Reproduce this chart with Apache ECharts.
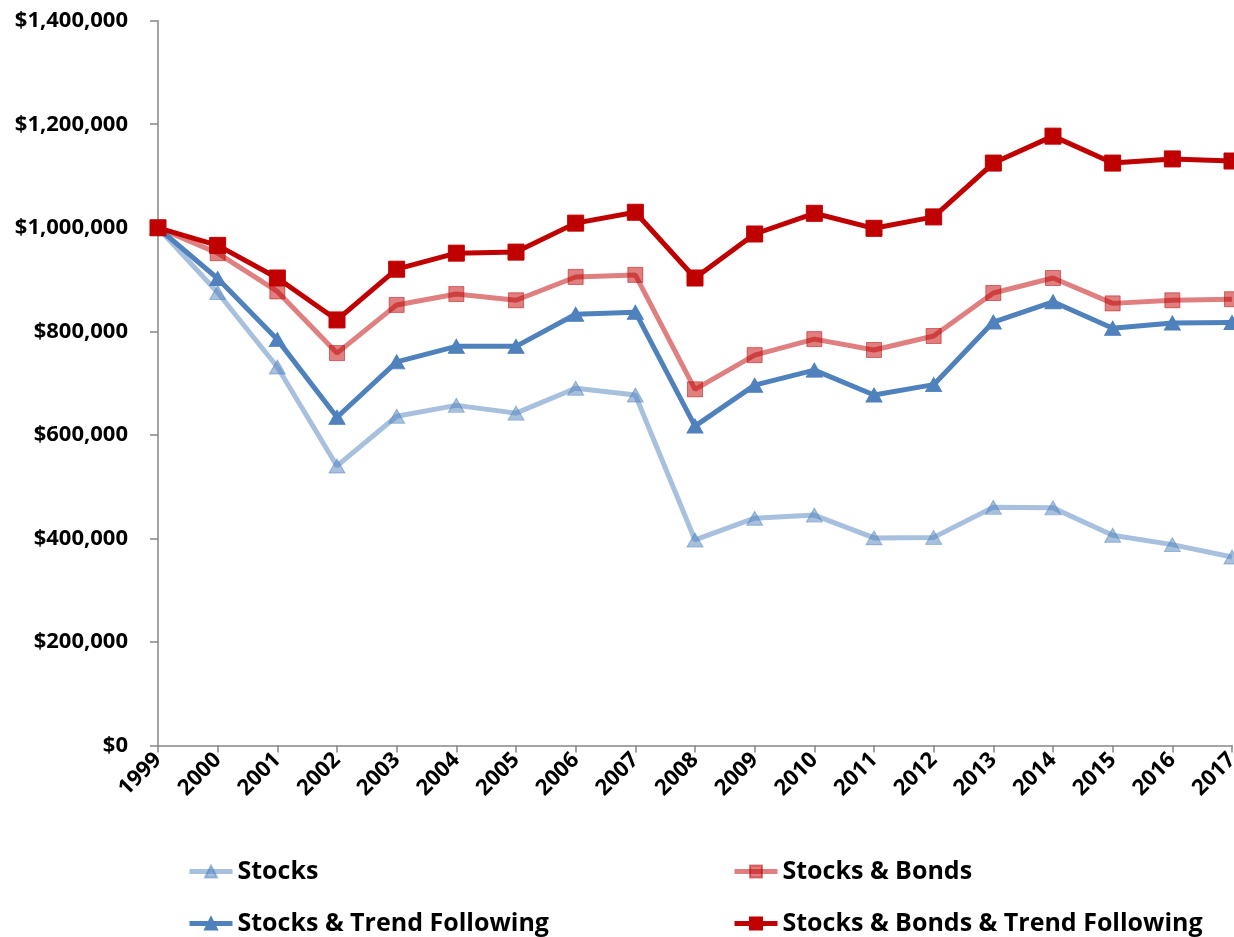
<!DOCTYPE html>
<html>
<head>
<meta charset="utf-8">
<title>Portfolio growth 1999-2017</title>
<script src="https://cdn.jsdelivr.net/npm/echarts@6/dist/echarts.min.js"></script>
<style>
  html, body { margin: 0; padding: 0; background: #fff; overflow: hidden; }
  #chart { width: 1234px; height: 937px; }
</style>
</head>
<body>
<div id="chart"></div>
<script>
// Years on the category axis
const years = ['1999','2000','2001','2002','2003','2004','2005','2006','2007','2008',
               '2009','2010','2011','2012','2013','2014','2015','2016','2017'];

// Portfolio value per year ($)
const stocks = [1000000, 875000, 731000, 540000, 636000, 657000, 642000, 690000, 677000, 397000,
                439000, 445000, 401000, 402000, 460000, 459000, 406000, 388000, 364000];
const stocksBonds = [1000000, 951000, 877000, 758000, 851000, 872000, 860000, 905000, 909000, 688000,
                     754000, 785000, 764000, 791000, 874000, 903000, 854000, 860000, 862000];
const stocksTrend = [1000000, 902000, 784000, 634000, 741000, 771000, 771000, 833000, 837000, 617000,
                     696000, 725000, 677000, 697000, 818000, 857000, 806000, 816000, 817000];
const stocksBondsTrend = [1000000, 966000, 903000, 822000, 920000, 951000, 953000, 1009000, 1030000, 903000,
                          988000, 1028000, 999000, 1021000, 1125000, 1177000, 1125000, 1133000, 1129000];

// Value axis ticks
const yTicks = [0, 200000, 400000, 600000, 800000, 1000000, 1200000, 1400000];

const FONT = '"Open Sans", "Liberation Sans", sans-serif';
const AXIS_GREY = '#868686';
const BLUE = '#4f81bd';
const BLUE_SOFT = 'rgba(79,129,189,0.5)';
const RED = '#c00000';
const RED_SOFT = 'rgba(192,0,0,0.5)';
const LINE_W = 5;

function money(v) {
  return '$' + String(Math.round(v)).replace(/\B(?=(\d{3})+(?!\d))/g, ',');
}

function lineSeries(name, data, color, symbol, size) {
  return {
    name: name,
    type: 'line',
    data: data,
    symbol: symbol,
    symbolSize: size,
    showAllSymbol: true,
    clip: false,
    lineStyle: { color: color, width: LINE_W },
    itemStyle: { color: color, borderColor: color, borderWidth: 1, opacity: 1 },
    emphasis: { disabled: true },
    z: 2
  };
}

const legendText = { fontFamily: FONT, fontWeight: 'bold', fontSize: 25, color: '#000' };
function legendAt(name, left, top) {
  return {
    data: [name],
    left: left,
    top: top,
    padding: 0,
    itemWidth: 43,
    itemHeight: 15,
    lineStyle: { width: LINE_W },
    textStyle: legendText,
    selectedMode: false
  };
}

const chart = echarts.init(document.getElementById('chart'), null, { renderer: 'canvas' });
chart.setOption({
  backgroundColor: '#ffffff',
  animation: false,
  grid: { left: 158, right: 2, top: 20.7, bottom: 191.5, containLabel: false, outerBoundsMode: 'none' },
  legend: [
    legendAt('Stocks', 187, 859),
    legendAt('Stocks & Bonds', 732, 859),
    legendAt('Stocks & Trend Following', 187, 911),
    legendAt('Stocks & Bonds & Trend Following', 732, 911)
  ],
  xAxis: {
    type: 'category',
    data: years,
    boundaryGap: false,
    axisLine: { lineStyle: { color: AXIS_GREY, width: 1.5 } },
    axisTick: { show: true, length: 7, alignWithLabel: true, lineStyle: { color: AXIS_GREY, width: 1.5 } },
    axisLabel: {
      interval: 0,
      rotate: 45,
      margin: 11,
      fontFamily: FONT,
      fontWeight: 'bold',
      fontSize: 22,
      color: '#000'
    },
    splitLine: { show: false }
  },
  yAxis: {
    type: 'value',
    min: yTicks[0],
    max: yTicks[yTicks.length - 1],
    interval: yTicks[1] - yTicks[0],
    axisLine: { show: true, lineStyle: { color: AXIS_GREY, width: 1.5 } },
    axisTick: { show: true, length: 8, lineStyle: { color: AXIS_GREY, width: 1.5 } },
    axisLabel: {
      margin: 30,
      formatter: money,
      fontFamily: FONT,
      fontWeight: 'bold',
      fontSize: 22,
      color: '#000'
    },
    splitLine: { show: false }
  },
  series: [
    lineSeries('Stocks', stocks, BLUE_SOFT, 'triangle', [16, 14]),
    lineSeries('Stocks & Bonds', stocksBonds, RED_SOFT, 'rect', 15),
    lineSeries('Stocks & Trend Following', stocksTrend, BLUE, 'triangle', [16, 14]),
    lineSeries('Stocks & Bonds & Trend Following', stocksBondsTrend, RED, 'rect', 16)
  ]
});
</script>
</body>
</html>
